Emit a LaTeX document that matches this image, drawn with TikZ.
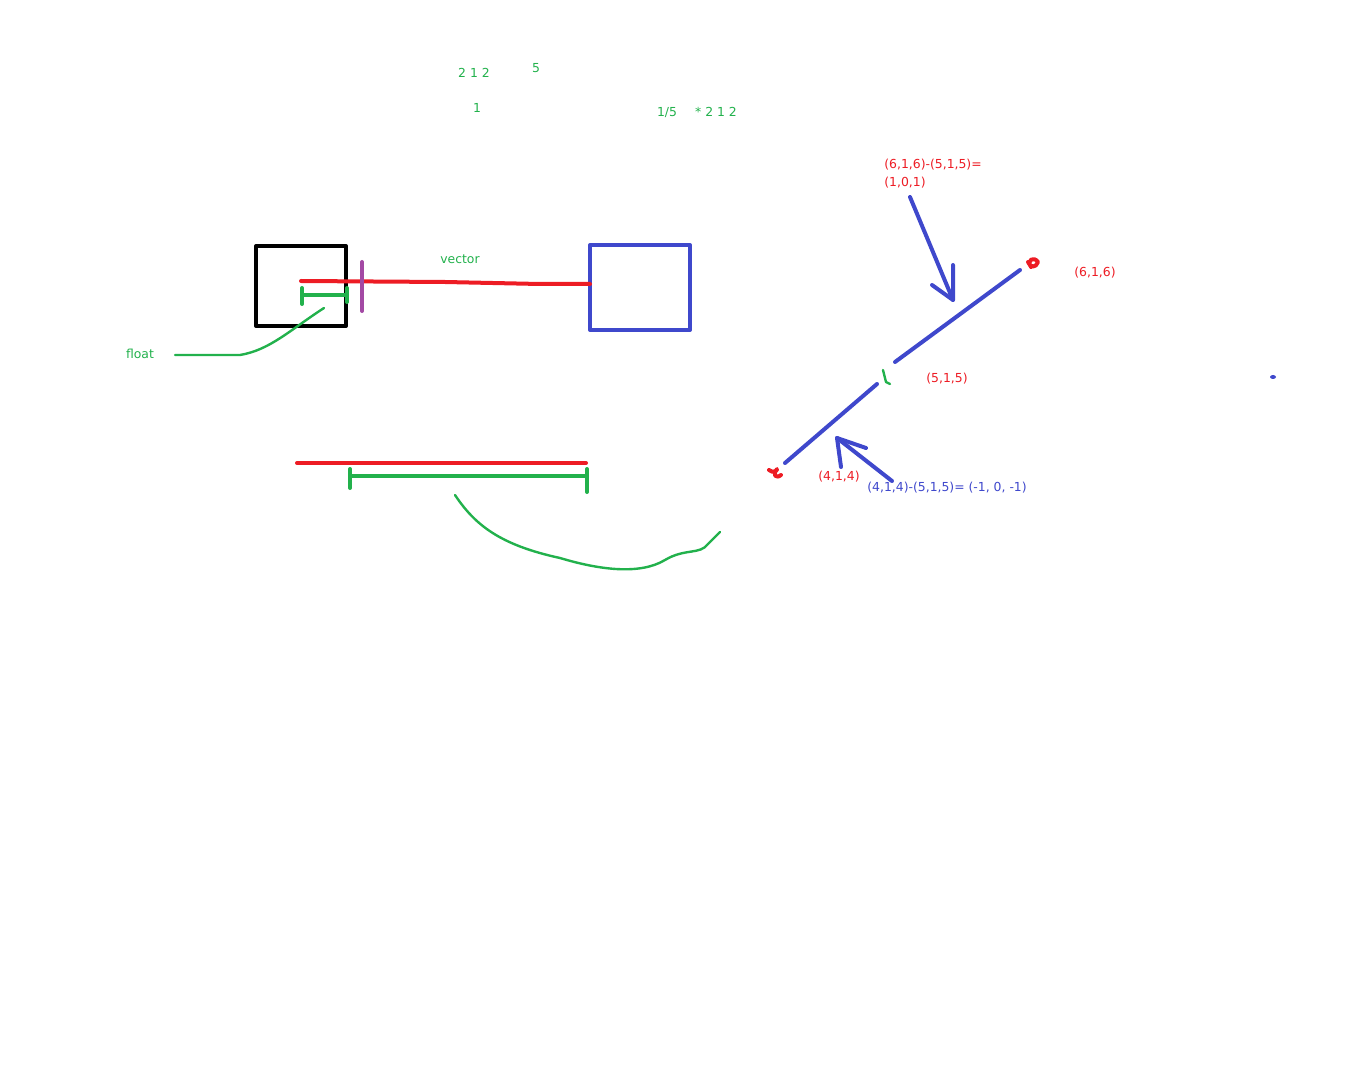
\documentclass[tikz,border=0pt]{standalone}
\usepackage{fontspec}
\setmainfont{DejaVu Sans}
\usepackage{xcolor}
\usepackage{tikz}
\usetikzlibrary{arrows.meta,positioning,calc}
\definecolor{pgreen}{HTML}{22B14C}
\definecolor{pred}{HTML}{ED1C24}
\definecolor{pblue}{HTML}{3F48CC}
\definecolor{ppurple}{HTML}{A349A4}
\tikzset{
  stroke/.style={line width=2pt,line cap=round,line join=round},
  thin stroke/.style={line width=1.2pt,line cap=round,line join=round},
  note/.style={inner sep=0pt,font=\fontsize{6.2}{7.2}\selectfont},
  gnote/.style={note,text=pgreen},
  rnote/.style={note,text=pred},
  bnote/.style={note,text=pblue},
}

\begin{document}
\begin{tikzpicture}[x=0.5pt,y=-0.5pt]
  \useasboundingbox (0,0) rectangle (1370,1080);
  % --- scribbled numbers on top ---
  \node[gnote] (n212) at (474,73) {2 1 2};
  \node[gnote] (n5) at (536,68) {5};
  \node[gnote] (n1) at (477,108) {1};
  \node[gnote] (nfrac) at (667,113) {1/5};
  \node[gnote] (nmul) at (716,112) {* 2 1 2};
  % --- the two boxes and the vector between them ---
  \draw[stroke,black] (256,246) rectangle (346,326);
  \draw[stroke,pblue] (590,245) rectangle (690,330);
  \draw[stroke,pred] (301,281) -- (445,282) -- (540,284) -- (590,284);
  \draw[stroke,ppurple] (362,262) -- (362,311);
  \node[gnote] (vec) at (460,259) {vector};
  \draw[stroke,pgreen] (302,295) -- (347,295);
  \draw[stroke,pgreen] (302,288) -- (302,304);
  \draw[stroke,pgreen] (347,288) -- (347,302);
  \node[gnote] (flt) at (140,354) {float};
  \draw[thin stroke,pgreen] (324,308) .. controls (290,330) and (270,350) .. (240,355)
    -- (175,355);
  % --- the long one below ---
  \draw[stroke,pred] (297,463) -- (586,463);
  \draw[stroke,pgreen] (350,476) -- (587,476);
  \draw[stroke,pgreen] (350,469) -- (350,488);
  \draw[stroke,pgreen] (587,469) -- (587,492);
  \draw[thin stroke,pgreen] (455,495) .. controls (475,525) and (500,545) .. (560,558)
    .. controls (600,570) and (640,575) .. (665,560)
    .. controls (685,548) and (700,555) .. (708,544) -- (720,532);
  % --- points on the line ---
  \draw[stroke,pblue] (895,362) -- (1020,270);
  \draw[stroke,pblue] (785,463) -- (877,384);
  \draw[stroke,pred] (1031,267) .. controls (1026,260) and (1034,256) .. (1038,262)
    .. controls (1036,268) and (1030,268) .. (1028,262);
  \draw[stroke,pred] (769,470) .. controls (773,474) and (778,470) .. (777,469)
    .. controls (772,475) and (776,479) .. (781,475);
  \draw[thin stroke,pgreen] (883,370) -- (886,382) -- (890,384);
  \node[rnote] (p6) at (1095,273) {(6,1,6)};
  \node[rnote] (p5) at (947,379) {(5,1,5)};
  \node[rnote] (p4) at (839,477) {(4,1,4)};
  \node[rnote,anchor=west] (d1) at (884,165) {(6,1,6)-(5,1,5)=};
  \node[rnote,anchor=west] (d1r) at (884,183) {(1,0,1)};
  \node[bnote,anchor=west] (d2) at (867,488) {(4,1,4)-(5,1,5)= (-1, 0, -1)};
  % hand drawn arrows
  \draw[stroke,pblue] (910,197) -- (953,300);
  \draw[stroke,pblue] (953,265) -- (953,300) -- (932,285);
  \draw[stroke,pblue] (892,481) -- (837,438);
  \draw[stroke,pblue] (841,467) -- (837,438) -- (866,448);
  \fill[pblue] (1273,377) ellipse (3 and 2);
\end{tikzpicture}
\end{document}
